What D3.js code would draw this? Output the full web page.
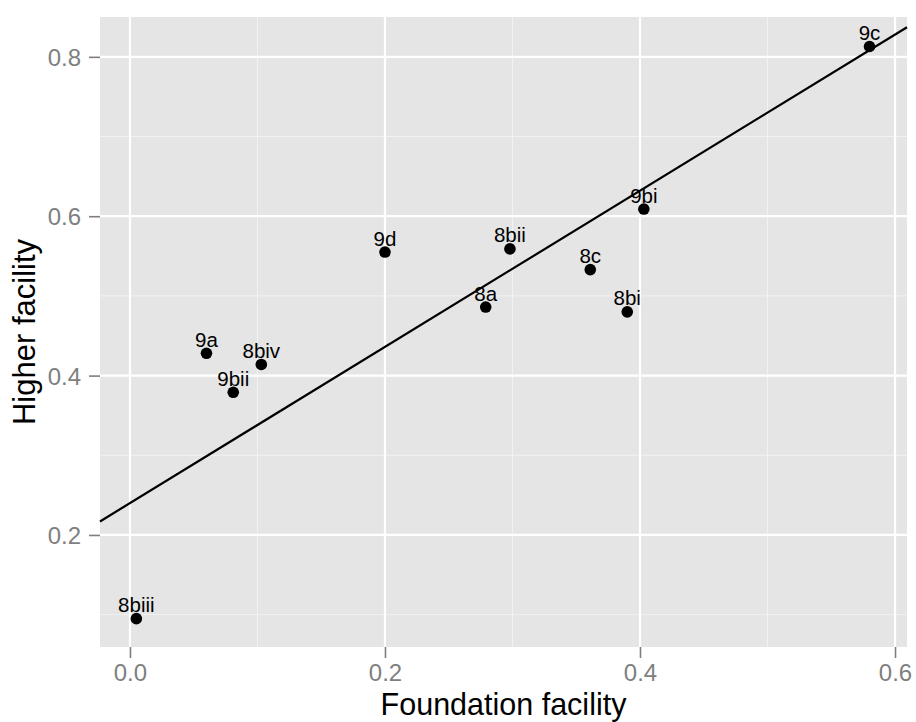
<!DOCTYPE html>
<html>
<head>
<meta charset="utf-8">
<script src="https://cdn.jsdelivr.net/npm/d3@7"></script>
<style>
  html, body { margin: 0; padding: 0; background: #fff; }
  text { font-family: "Liberation Sans", Arial, sans-serif; }
</style>
</head>
<body>
<div id="chart"></div>
<script>
// pontos
const labels = ["8biii", "9a", "8biv", "9bii", "9d", "8bii", "8a", "8c", "8bi", "9bi", "9c"];
const foundation = [0.005, 0.060, 0.103, 0.081, 0.200, 0.298, 0.279, 0.361, 0.390, 0.403, 0.580];
const higher = [0.095, 0.428, 0.414, 0.379, 0.555, 0.559, 0.486, 0.533, 0.480, 0.609, 0.813];

// recta de ajuste (intercepto / declive)
const fitIntercept = 0.240;
const fitSlope = 0.98;

const xTicks = [0.0, 0.2, 0.4, 0.6];
const xMinor = [0.1, 0.3, 0.5];
const yTicks = [0.2, 0.4, 0.6, 0.8];
const yMinor = [0.1, 0.3, 0.5, 0.7];

const width = 916, height = 722;
const margin = { top: 17, right: 9, bottom: 75, left: 100 };

const svg = d3.select("#chart").append("svg")
  .attr("width", width)
  .attr("height", height);

const x = d3.scaleLinear()
  .domain([-0.0235, 0.6094])
  .range([margin.left, width - margin.right]);

const y = d3.scaleLinear()
  .domain([0.0594, 0.850])
  .range([height - margin.bottom, margin.top]);

const [x0, x1] = x.range();
const [y0, y1] = y.range();

// painel cinzento
svg.append("rect")
  .attr("x", x0).attr("y", y1)
  .attr("width", x1 - x0).attr("height", y0 - y1)
  .attr("fill", "#e5e5e5");

const grid = svg.append("g");

grid.selectAll("line.xminor").data(xMinor).join("line")
  .attr("x1", d => x(d)).attr("x2", d => x(d))
  .attr("y1", y1).attr("y2", y0)
  .attr("stroke", "#f2f2f2").attr("stroke-width", 1);

grid.selectAll("line.yminor").data(yMinor).join("line")
  .attr("x1", x0).attr("x2", x1)
  .attr("y1", d => y(d)).attr("y2", d => y(d))
  .attr("stroke", "#f2f2f2").attr("stroke-width", 1);

grid.selectAll("line.xmajor").data(xTicks).join("line")
  .attr("x1", d => x(d)).attr("x2", d => x(d))
  .attr("y1", y1).attr("y2", y0)
  .attr("stroke", "#fff").attr("stroke-width", 2.2);

grid.selectAll("line.ymajor").data(yTicks).join("line")
  .attr("x1", x0).attr("x2", x1)
  .attr("y1", d => y(d)).attr("y2", d => y(d))
  .attr("stroke", "#fff").attr("stroke-width", 2.2);

// eixos
const xAxis = svg.append("g")
  .attr("transform", `translate(0,${y0})`)
  .call(d3.axisBottom(x).tickValues(xTicks).tickFormat(d3.format(".1f")).tickSize(11).tickPadding(6));

const yAxis = svg.append("g")
  .attr("transform", `translate(${x0},0)`)
  .call(d3.axisLeft(y).tickValues(yTicks).tickFormat(d3.format(".1f")).tickSize(11).tickPadding(8));

[xAxis, yAxis].forEach(a => {
  a.select(".domain").remove();
  a.selectAll(".tick line").attr("stroke", "#7f7f7f").attr("stroke-width", 1.6);
  a.selectAll(".tick text")
    .attr("fill", "#7f7f7f")
    .attr("font-size", 24)
    .attr("font-family", "Liberation Sans, Arial, sans-serif");
});
yAxis.selectAll(".tick text").attr("dy", "0.36em");

// linha de ajuste, em todo o painel
const [dx0, dx1] = x.domain();
svg.append("line")
  .attr("x1", x(dx0)).attr("y1", y(fitIntercept + fitSlope * dx0))
  .attr("x2", x(dx1)).attr("y2", y(fitIntercept + fitSlope * dx1))
  .attr("stroke", "#000").attr("stroke-width", 2.2);

const pts = labels.map((l, i) => ({ label: l, fx: foundation[i], hy: higher[i] }));

svg.append("g").selectAll("circle").data(pts).join("circle")
  .attr("cx", d => x(d.fx))
  .attr("cy", d => y(d.hy))
  .attr("r", 5.8)
  .attr("fill", "#000");

svg.append("g").selectAll("text").data(pts).join("text")
  .attr("x", d => x(d.fx))
  .attr("y", d => y(d.hy) - 6.5)
  .attr("text-anchor", "middle")
  .attr("font-size", 20.5)
  .attr("fill", "#000")
  .text(d => d.label);

// títulos dos eixos
svg.append("text")
  .attr("x", (x0 + x1) / 2)
  .attr("y", 715)
  .attr("text-anchor", "middle")
  .attr("font-size", 30.5)
  .attr("fill", "#000")
  .text("Foundation facility");

svg.append("text")
  .attr("transform", `translate(35,${(y0 + y1) / 2}) rotate(-90)`)
  .attr("text-anchor", "middle")
  .attr("font-size", 31)
  .attr("fill", "#000")
  .text("Higher facility");
</script>
</body>
</html>
